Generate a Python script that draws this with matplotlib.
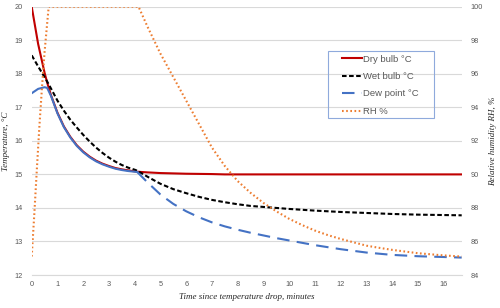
import numpy as np
import matplotlib.pyplot as plt
from matplotlib.patches import Rectangle

# Time axis in minutes
t_temp = [0, 0.25, 0.5, 0.6, 0.75, 1, 1.25, 1.5, 1.75, 2, 2.25, 2.5, 2.75, 3, 3.25, 3.5,
          3.75, 4, 4.1, 4.5, 5, 5.5, 6, 6.5, 7, 7.5, 8, 8.5, 9, 9.5, 10, 11, 12, 13, 14,
          15, 16.7]
dry_bulb = [20.0, 18.89, 18.03, 17.74, 17.36, 16.84, 16.43, 16.12, 15.87, 15.68, 15.53,
            15.41, 15.32, 15.25, 15.19, 15.15, 15.12, 15.09, 15.08, 15.06, 15.04, 15.03,
            15.02, 15.015, 15.01, 15.0, 15.0, 15.0, 15.0, 15.0, 15.0, 15.0, 15.0, 15.0,
            15.0, 15.0, 15.0]
wet_bulb = [18.55, 18.22, 17.9, 17.77, 17.56, 17.2, 16.9, 16.63, 16.4, 16.18, 15.98, 15.8,
            15.64, 15.5, 15.38, 15.28, 15.2, 15.14, 15.11, 14.93, 14.72, 14.56, 14.44, 14.33,
            14.24, 14.17, 14.11, 14.06, 14.03, 14.0, 13.97, 13.92, 13.88, 13.85, 13.82,
            13.8, 13.78]
dew_point = [17.42, 17.55, 17.6, 17.58, 17.34, 16.82, 16.41, 16.1, 15.85, 15.66, 15.51,
             15.39, 15.3, 15.23, 15.17, 15.13, 15.1, 15.08, 15.07, 14.76, 14.4, 14.12, 13.9,
             13.72, 13.57, 13.45, 13.35, 13.26, 13.18, 13.1, 13.03, 12.89, 12.77, 12.67,
             12.6, 12.56, 12.52]
dew_split = 19  # index where the dew point curve leaves the dry bulb curve

t_rh = [0, 0.1, 0.2, 0.3, 0.4, 0.5, 0.6, 0.66, 1, 2, 3, 4, 4.15, 4.5, 5, 5.5, 6, 6.5, 7, 7.5,
        8, 8.5, 9, 9.5, 10, 10.5, 11, 11.5, 12, 12.5, 13, 13.5, 14, 15, 16, 16.7]
rh = [85.1, 87.6, 90.3, 92.9, 95.2, 97.3, 99.0, 100, 100, 100, 100, 100, 100, 98.8, 97.2, 95.8,
      94.4, 93.0, 91.6, 90.5, 89.6, 88.9, 88.3, 87.8, 87.35, 86.98, 86.65, 86.38, 86.15,
      85.95, 85.75, 85.62, 85.5, 85.3, 85.17, 85.1]

temp_ticks = [12, 13, 14, 15, 16, 17, 18, 19, 20]
rh_ticks = [84, 86, 88, 90, 92, 94, 96, 98, 100]
x_ticks = list(range(17))

tick_color = '#595959'
grid_color = '#D9D9D9'

fig = plt.figure(figsize=(5, 3.08), dpi=100)
ax = fig.add_axes([0.0634, 0.1071, 0.86, 0.8711])
ax2 = ax.twinx()

l1, = ax.plot(t_temp, dry_bulb, color='#C00000', lw=1.5, label='Dry bulb °C')
l2, = ax.plot(t_temp, wet_bulb, color='black', lw=1.5, ls=(0, (2.2, 1.2)), label='Wet bulb °C')
ax.plot(t_temp[:dew_split], dew_point[:dew_split], color='#4472C4', lw=1.5)
l3, = ax.plot(t_temp[dew_split - 1:], dew_point[dew_split - 1:], color='#4472C4', lw=1.5,
              ls=(0, (6, 3.5)), label='Dew point °C')
l4, = ax2.plot(t_rh, rh, color='#ED7D31', lw=1.5, ls=(0, (0.8, 1.2)), label='RH %')

ax.set_xlim(0, 16.7)
ax.set_ylim(12, 20)
ax2.set_ylim(84, 100)
ax.set_xticks(x_ticks)
ax.set_yticks(temp_ticks)
ax2.set_yticks(rh_ticks)

ax.grid(axis='y', color=grid_color, lw=0.8)
ax.set_axisbelow(True)
for a in (ax, ax2):
    for s in a.spines.values():
        s.set_visible(False)
ax.spines['bottom'].set_visible(True)
ax.spines['bottom'].set_color(grid_color)
ax.spines['bottom'].set_linewidth(0.8)

ax.tick_params(axis='x', length=0, pad=4.5, labelsize=5.3, labelcolor=tick_color)
ax.tick_params(axis='y', length=0, pad=6.5, labelsize=5.3, labelcolor=tick_color)
ax2.tick_params(axis='y', length=0, pad=6.5, labelsize=5.3, labelcolor=tick_color)
for lab in ax.get_xticklabels() + ax.get_yticklabels() + ax2.get_yticklabels():
    lab.set_family('Liberation Sans')

serif = dict(family='Liberation Serif', style='italic', fontsize=6.5, color='#262626')
ax.set_xlabel('Time since temperature drop, minutes', labelpad=3.5, **serif)
ax.set_ylabel('Temperature, °C', labelpad=3, **serif)
ax2.set_ylabel('Relative humidity RH, %', labelpad=4, **serif)

fig.patches.append(Rectangle((328 / 500, 1 - 118 / 308), 106 / 500, 67 / 308,
                             transform=fig.transFigure, fill=False,
                             edgecolor='#8FAADC', lw=0.8))
leg = ax2.legend(handles=[l1, l2, l3, l4], loc='upper left',
                 bbox_to_anchor=(342 / 500, 1 - 54.5 / 308), bbox_transform=fig.transFigure,
                 frameon=False, borderpad=0, borderaxespad=0, handlelength=2.1,
                 handletextpad=0.15, labelspacing=0.9,
                 prop={'family': 'Liberation Sans', 'size': 6.8})
for txt in leg.get_texts():
    txt.set_color(tick_color)

fig.savefig('out.png', dpi=100)
